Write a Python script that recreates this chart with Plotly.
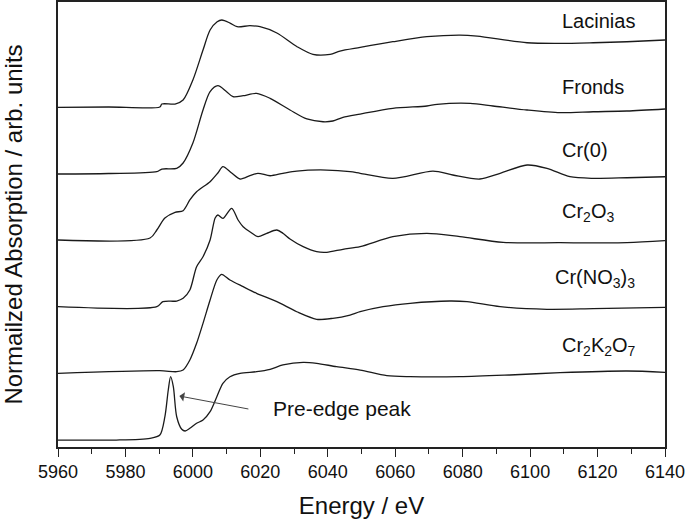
import plotly.graph_objects as go

# ---- data (energy in eV, normalized absorption before vertical offset) ----
lacinias_e = [5960, 5975, 5990.2, 5990.8, 5994.7, 5997.1, 6000.0, 6003.0, 6005.1, 6007.2, 6008.6, 6011.0,
              6013.1, 6016.9, 6019.9, 6024.9, 6030.9, 6035.6, 6040.7, 6043.6, 6049.6, 6059.3, 6069.4,
              6079.2, 6084.3, 6099.1, 6108.9, 6118.7, 6128.7, 6140]
lacinias_y = [0.070, 0.075, 0.075, 0.119, 0.119, 0.179, 0.478, 0.925, 1.224, 1.348, 1.373, 1.328,
              1.273, 1.288, 1.273, 1.179, 0.975, 0.861, 0.861, 0.910, 0.965, 1.049, 1.124,
              1.149, 1.134, 1.034, 1.025, 1.034, 1.049, 1.075]

fronds_e = [5960, 5975, 5989.3, 5990.8, 5995.2, 5997.1, 6000.0, 6003.0, 6005.1, 6007.4, 6010.0, 6011.9,
            6014.9, 6018.9, 6022.9, 6028.8, 6033.8, 6038.6, 6041.5, 6044.5, 6049.6, 6059.3, 6069.4,
            6072.4, 6082.2, 6089.0, 6099.1, 6108.9, 6118.7, 6128.7, 6140]
fronds_y = [0.075, 0.082, 0.109, 0.149, 0.160, 0.239, 0.537, 1.030, 1.303, 1.393, 1.303, 1.228,
            1.243, 1.279, 1.204, 1.030, 0.896, 0.855, 0.866, 0.921, 0.970, 1.055, 1.090,
            1.115, 1.130, 1.090, 1.030, 0.990, 1.004, 1.015, 1.045]

cr0_e = [5960, 5987.3, 5989.3, 5991.7, 5994.7, 5997.1, 5999.1, 6001.1, 6005.1, 6007.4, 6008.9, 6011.5,
         6014.0, 6016.9, 6019.3, 6022.9, 6026.7, 6030.8, 6039.7, 6046.6, 6049.6, 6059.3, 6071.2,
         6077.1, 6085.1, 6091.1, 6099.1, 6105.0, 6111.8, 6118.7, 6128.7, 6140]
cr0_y = [0.090, 0.119, 0.239, 0.418, 0.503, 0.527, 0.687, 0.810, 0.960, 1.090, 1.184, 1.090,
         1.000, 1.049, 1.085, 1.049, 1.085, 1.119, 1.134, 1.109, 1.085, 1.010, 1.119,
         1.060, 1.000, 1.085, 1.209, 1.159, 1.034, 1.010, 1.019, 1.034]

cr2o3_e = [5960, 5989.3, 5991.1, 5995.2, 5997.1, 5999.1, 6001.1, 6003.0, 6005.1, 6006.6, 6007.4, 6008.9,
           6011.5, 6013.4, 6014.9, 6016.9, 6019.3, 6021.9, 6024.9, 6026.7, 6028.8, 6032.7, 6036.7,
           6039.7, 6044.5, 6049.6, 6059.3, 6069.4, 6079.2, 6092.0, 6108.9, 6128.7, 6140]
cr2o3_y = [0.094, 0.094, 0.169, 0.179, 0.219, 0.343, 0.691, 0.840, 1.090, 1.418, 1.463, 1.413,
           1.563, 1.388, 1.288, 1.213, 1.139, 1.190, 1.239, 1.190, 1.104, 0.990, 0.915,
           0.906, 0.951, 0.990, 1.139, 1.190, 1.139, 1.055, 1.049, 1.049, 1.079]

crno3_e = [5960, 5990.2, 5995.2, 5997.1, 5999.1, 6001.1, 6003.0, 6005.1, 6007.1, 6008.5, 6011.0, 6014.9,
           6018.9, 6024.9, 6030.8, 6036.7, 6041.5, 6046.6, 6049.6, 6056.4, 6064.4, 6076.2, 6081.3,
           6091.1, 6105.0, 6118.7, 6140]
crno3_y = [0.100, 0.139, 0.124, 0.149, 0.299, 0.548, 0.846, 1.194, 1.493, 1.578, 1.493, 1.393,
           1.294, 1.169, 1.019, 0.906, 0.921, 0.970, 1.019, 1.094, 1.145, 1.179, 1.169,
           1.094, 1.055, 1.064, 1.085]

crk_e = [5960, 5977.3, 5987.3, 5990.2, 5991.7, 5992.7, 5993.4, 5994.2, 5995.2, 5996.7, 5997.7, 5999.1,
         6001.1, 6003.0, 6005.1, 6007.1, 6008.9, 6011.0, 6014.0, 6018.9, 6022.9, 6026.7, 6032.7,
         6036.7, 6042.6, 6049.6, 6057.5, 6064.4, 6079.2, 6094.0, 6108.9, 6128.7, 6140]
crk_y = [0.104, 0.104, 0.130, 0.179, 0.452, 0.851, 1.049, 0.900, 0.452, 0.264, 0.239, 0.279,
         0.354, 0.403, 0.527, 0.751, 0.951, 1.049, 1.100, 1.124, 1.160, 1.224, 1.264,
         1.249, 1.199, 1.149, 1.064, 1.049, 1.049, 1.075, 1.109, 1.134, 1.115]

sample_names = ["Lacinias", "Fronds", "Cr(0)", "Cr<sub>2</sub>O<sub>3</sub>",
                "Cr(NO<sub>3</sub>)<sub>3</sub>", "Cr<sub>2</sub>K<sub>2</sub>O<sub>7</sub>"]
offsets = [5, 4, 3, 2, 1, 0]
label_y = [6.36, 5.37, 4.43, 3.50, 2.52, 1.50]
label_x = [6108.9, 6108.9, 6108.9, 6108.9, 6106.8, 6108.9]

x_ticks = [5960, 5980, 6000, 6020, 6040, 6060, 6080, 6100, 6120, 6140]

energies = [lacinias_e, fronds_e, cr0_e, cr2o3_e, crno3_e, crk_e]
absorb = [lacinias_y, fronds_y, cr0_y, cr2o3_y, crno3_y, crk_y]

fig = go.Figure()
for e, a, off, name in zip(energies, absorb, offsets, sample_names):
    fig.add_trace(go.Scatter(
        x=e, y=[v + off for v in a], mode="lines", name=name,
        line=dict(color="#1a1a1a", width=1.3, shape="spline", smoothing=0.8),
        showlegend=False, hoverinfo="x+y"))

FONT = "Liberation Sans, Arial, sans-serif"
for name, lx, ly in zip(sample_names, label_x, label_y):
    fig.add_annotation(x=lx, y=ly, xref="x", yref="y", text=name, showarrow=False,
                       xanchor="left", yanchor="middle",
                       font=dict(family=FONT, size=20, color="#111"))

# pre-edge annotation
fig.add_annotation(x=6023.1, y=0.578, xref="x", yref="y", text="Pre-edge peak",
                   showarrow=False, xanchor="left", yanchor="middle",
                   font=dict(family=FONT, size=21, color="#111"))
fig.add_annotation(x=5996.0, y=0.761, ax=6016.9, ay=0.563, xref="x", yref="y",
                   axref="x", ayref="y", text="", showarrow=True,
                   arrowhead=1, arrowsize=1.6, arrowwidth=1, arrowcolor="#444")

fig.update_layout(
    width=685, height=521,
    margin=dict(l=58, r=20, t=2, b=74),
    paper_bgcolor="white", plot_bgcolor="white",
    font=dict(family=FONT, color="#111"),
    xaxis=dict(range=[5960, 6140], tickvals=x_ticks, ticktext=[str(t) for t in x_ticks],
               ticks="outside", ticklen=8, tickwidth=1, tickcolor="#222",
               minor=dict(dtick=10, ticks="outside", ticklen=5, tickwidth=1, tickcolor="#222"),
               showline=True, linecolor="#222", linewidth=1.5, mirror=True,
               showgrid=False, zeroline=False, automargin=False,
               ticklabeloverflow="allow",
               tickfont=dict(family=FONT, size=18, color="#111"),
               title=dict(text="Energy / eV", font=dict(family=FONT, size=24, color="#111"),
                          standoff=16)),
    yaxis=dict(range=[0, 6.642], showticklabels=False, ticks="",
               showline=True, linecolor="#222", linewidth=1.5, mirror=True,
               showgrid=False, zeroline=False, automargin=False,
               title=dict(text="Normailzed Absorption / arb. units",
                          font=dict(family=FONT, size=24, color="#111"), standoff=30)),
)

fig.write_html("out.html", config={"displayModeBar": False},
               post_script="document.body.style.margin='0';document.body.style.overflow='hidden';")
